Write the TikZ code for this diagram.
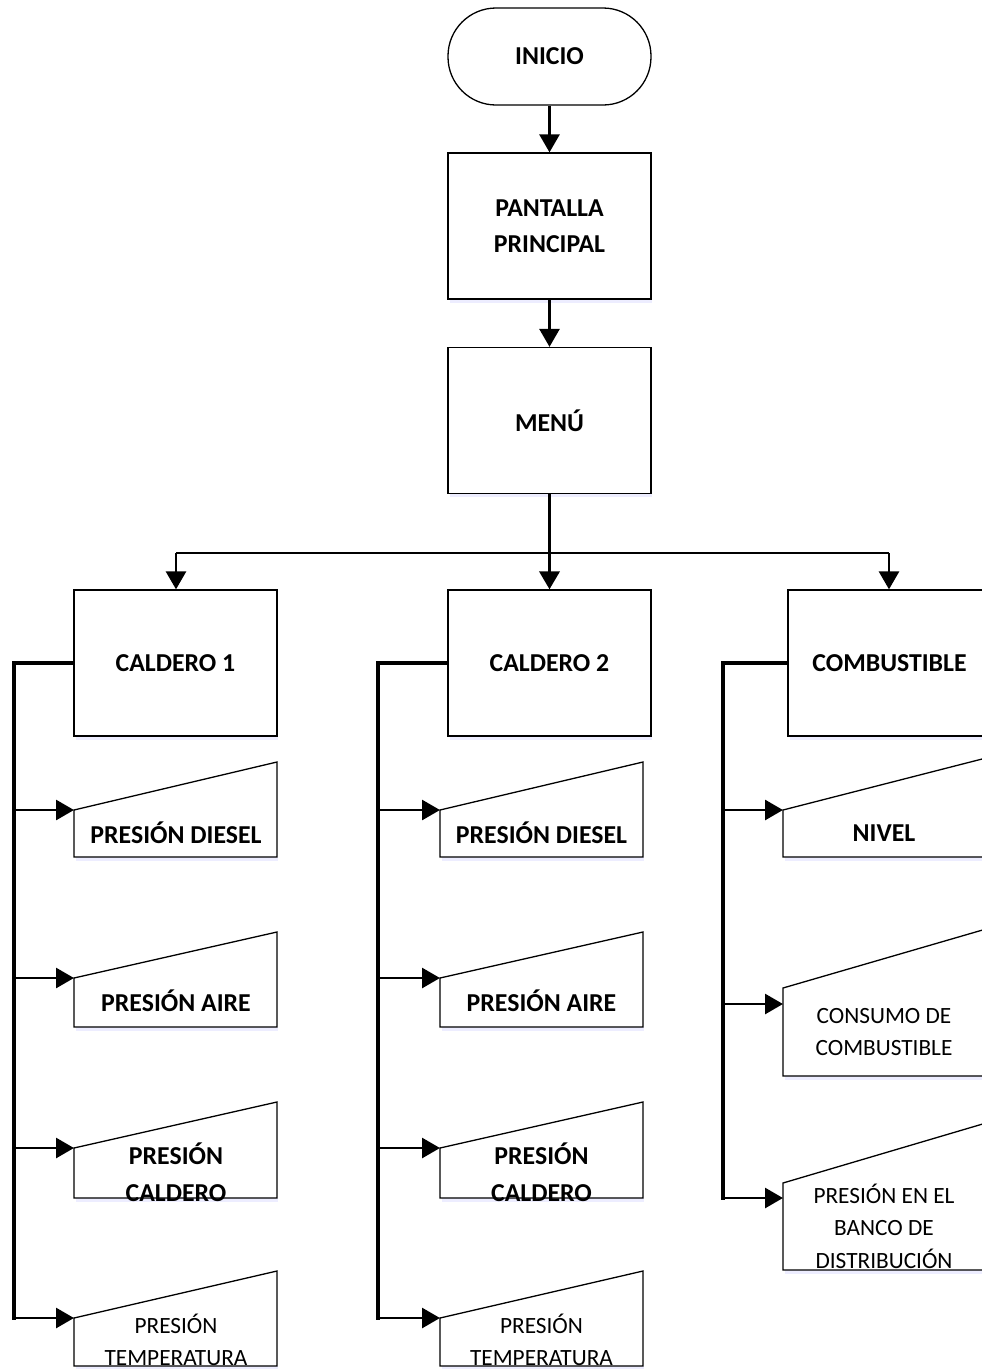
\documentclass[tikz,border=0pt]{standalone}
\usepackage{fontspec}
\setmainfont{Carlito}
\usetikzlibrary{arrows.meta}
\newcommand\bt{\fontsize{25.8}{36.5}\selectfont\bfseries}
\newcommand\rt{\fontsize{23.3}{32.5}\selectfont}
% #1 name of arrow target, #2 x left, #3 x right, #4 y top-left, #5 y top-right, #6 y bottom, #7 y of arrow
\newcommand\minput[7]{%
  \fill[blue!7] (#2,#6) ++(2,0) rectangle (#3+1,#6+4);
  \draw[inbox] (#2,#4) -- (#3,#5) -- (#3,#6) -- (#2,#6) -- cycle;
  \coordinate (#1) at (#2,#7);}
\begin{document}
\begin{tikzpicture}[x=1pt,y=-1pt,
  box/.style={draw, line width=1.3pt, fill=white, minimum width=203pt, minimum height=146pt,
    inner sep=0pt, align=center, font=\bt},
  inbox/.style={draw, line width=1.3pt, fill=white},
  lbl/.style={inner sep=0pt, align=center},
  arr/.style={line width=2.8pt, -{Triangle[length=18pt,width=20pt]}},
  bus/.style={line width=3.6pt, line cap=rect},
]
\clip (0,0) rectangle (982,1369);
\fill[white] (0,0) rectangle (982,1369);

% shadows
\foreach \x/\y in {450/299, 450/493, 76/736, 450/736, 790/736} {
  \fill[blue!7] (\x,\y) rectangle (\x+202,\y+4);
}

% top column
\node[box, minimum height=97pt, rounded corners=48pt] (ini) at (549.5,56.5) {INICIO};
\node[box] (pp) at (549.5,226) {PANTALLA\\PRINCIPAL};
\node[box] (menu) at (549.5,420.5) {MENÚ};

% second level
\node[box] (c1) at (175.5,663) {CALDERO 1};
\node[box] (c2) at (549.5,663) {CALDERO 2};
\node[box] (c3) at (889.5,663) {COMBUSTIBLE};

\draw[arr] (ini) -- (pp);
\draw[arr] (pp) -- (menu);
\draw[arr, line width=3.6pt] (menu) -- (c2);
\coordinate (hl) at (176,553);
\coordinate (hr) at (889,553);
\draw[line width=2.8pt] (hl) -- (hr);
\draw[arr] (hl) -- (hl |- c1.north);
\draw[arr] (hr) -- (hr |- c3.north);

% column 1 inputs
\minput{a1}{74}{277}{810}{762}{857}{810}
\minput{a2}{74}{277}{978}{932}{1027}{978}
\minput{a3}{74}{277}{1148}{1102}{1198}{1148}
\minput{a4}{74}{277}{1318}{1271}{1366}{1318}
\node[lbl, font=\bt] (ta1) at (176,833) {PRESIÓN DIESEL};
\node[lbl, font=\bt] (ta2) at (176,1001) {PRESIÓN AIRE};
\node[lbl, font=\bt] (ta3) at (176,1172) {PRESIÓN\\CALDERO};
\node[lbl, font=\rt] (ta4) at (176,1340) {PRESIÓN\\TEMPERATURA};

% column 2 inputs
\minput{b1}{440}{643}{810}{762}{857}{810}
\minput{b2}{440}{643}{978}{932}{1027}{978}
\minput{b3}{440}{643}{1148}{1102}{1198}{1148}
\minput{b4}{440}{643}{1318}{1271}{1366}{1318}
\node[lbl, font=\bt] (tb1) at (541.5,833) {PRESIÓN DIESEL};
\node[lbl, font=\bt] (tb2) at (541.5,1001) {PRESIÓN AIRE};
\node[lbl, font=\bt] (tb3) at (541.5,1172) {PRESIÓN\\CALDERO};
\node[lbl, font=\rt] (tb4) at (541.5,1340) {PRESIÓN\\TEMPERATURA};

% column 3 inputs
\minput{n1}{783}{986}{810}{758}{857}{810}
\minput{n2}{783}{986}{988}{929}{1076}{1004}
\minput{n3}{783}{986}{1183}{1123}{1270}{1198}
\node[lbl, font=\bt] (tn1) at (884,833) {NIVEL};
\node[lbl, font=\rt] (tn2) at (884,1032) {CONSUMO DE\\COMBUSTIBLE};
\node[lbl, font=\rt] (tn3) at (884,1226) {PRESIÓN EN EL\\BANCO DE\\DISTRIBUCIÓN};

% buses
\coordinate (k1) at (14,663);   \coordinate (k1e) at (14,1318);
\coordinate (k2) at (378,663);  \coordinate (k2e) at (378,1318);
\coordinate (k3) at (723,663);  \coordinate (k3e) at (723,1198);
\draw[bus] (c1.west) -- (k1) -- (k1e);
\draw[bus] (c2.west) -- (k2) -- (k2e);
\draw[bus] (c3.west) -- (k3) -- (k3e);
\foreach \t in {a1,a2,a3,a4} { \draw[arr] (\t -| k1) -- (\t); }
\foreach \t in {b1,b2,b3,b4} { \draw[arr] (\t -| k2) -- (\t); }
\foreach \t in {n1,n2,n3} { \draw[arr] (\t -| k3) -- (\t); }
\end{tikzpicture}
\end{document}
